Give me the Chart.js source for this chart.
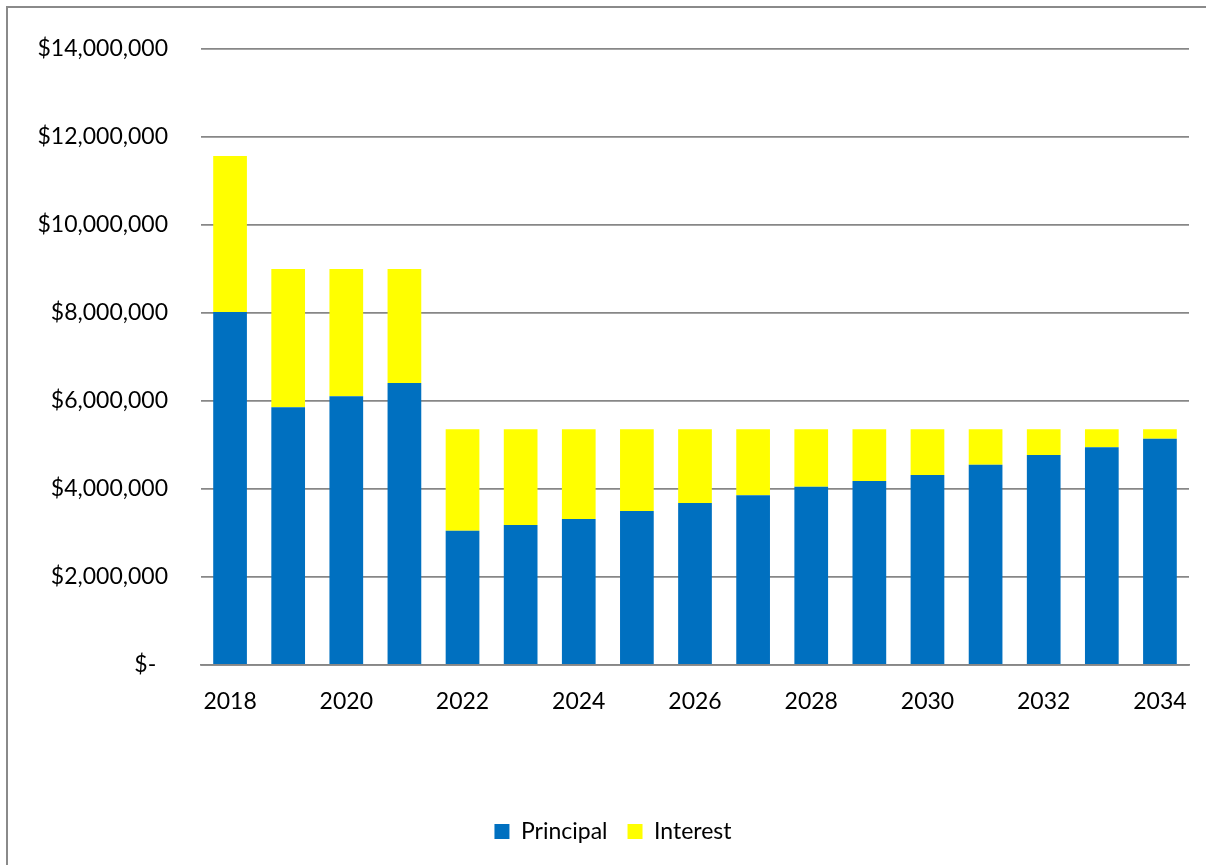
<!DOCTYPE html>
<html>
<head>
<meta charset="utf-8">
<script src="https://cdn.jsdelivr.net/npm/chart.js@4/dist/chart.umd.min.js"></script>
<style>
    html, body { margin: 0; padding: 0; background: #fff; }
    #wrap { position: relative; width: 1206px; height: 865px; overflow: hidden; }
    #frame { position: absolute; left: 6px; top: 6px; width: 1300px; height: 1000px; border: 2px solid #8a8a8a; box-sizing: border-box; }
    canvas { position: absolute; left: 0; top: 0; }
</style>
</head>
<body>
<div id="wrap">
    <div id="frame"></div>
    <canvas id="chart" width="1206" height="865"></canvas>
</div>
<script>
const years = ['2018', '2019', '2020', '2021', '2022', '2023', '2024', '2025', '2026',
               '2027', '2028', '2029', '2030', '2031', '2032', '2033', '2034'];

const principal = [8020000, 5860000, 6110000, 6410000, 3050000, 3180000, 3320000, 3500000, 3680000,
                   3860000, 4050000, 4180000, 4320000, 4550000, 4770000, 4950000, 5140000];

const interest = [3550000, 3140000, 2890000, 2590000, 2310000, 2180000, 2040000, 1860000, 1680000,
                  1500000, 1310000, 1180000, 1040000, 810000, 590000, 410000, 220000];

const fontFamily = 'Lato, "Open Sans", sans-serif';
const gridColor = '#878787';

const data = {
    labels: years,
    datasets: [
        {
            label: 'Principal',
            data: principal,
            backgroundColor: '#0070C0',
        },
        {
            label: 'Interest',
            data: interest,
            backgroundColor: '#FFFF00',
        },
    ]
};

const config = {
    type: 'bar',
    data: data,
    options: {
        responsive: false,
        animation: false,
        layout: {
            padding: { left: 37, right: 17, top: 49, bottom: 12 }
        },
        datasets: {
            bar: {
                categoryPercentage: 1,
                barPercentage: 0.58,
            }
        },
        plugins: {
            tooltip: { enabled: false },
            legend: {
                position: 'bottom',
                labels: {
                    color: '#000',
                    font: { family: fontFamily, size: 23 },
                    boxWidth: 15,
                    boxHeight: 15,
                    padding: 20,
                }
            }
        },
        scales: {
            x: {
                stacked: true,
                grid: { display: false, drawTicks: false },
                border: { display: true, color: gridColor, width: 1.8 },
                ticks: {
                    color: '#000',
                    font: { family: fontFamily, size: 23 },
                    padding: 23,
                    autoSkip: false,
                    maxRotation: 0,
                    callback: function(value, index) {
                        return index % 2 === 0 ? this.getLabelForValue(value) : '';
                    }
                },
                afterFit: function(scale) {
                    scale.height = 135;
                    scale.paddingLeft = 0;
                    scale.paddingRight = 0;
                }
            },
            y: {
                stacked: true,
                min: 0,
                max: 14000000,
                grid: { color: gridColor, lineWidth: 1.8, drawTicks: false },
                border: { display: false },
                ticks: {
                    stepSize: 2000000,
                    color: '#000',
                    font: { family: fontFamily, size: 23 },
                    padding: 33,
                    callback: function(value) {
                        if (value === 0) return '$-  ';
                        return '$' + value.toLocaleString('en-US');
                    }
                },
                afterFit: function(scale) { scale.width = 164; }
            }
        }
    }
};

const chart = new Chart(document.getElementById('chart'), config);
</script>
</body>
</html>
